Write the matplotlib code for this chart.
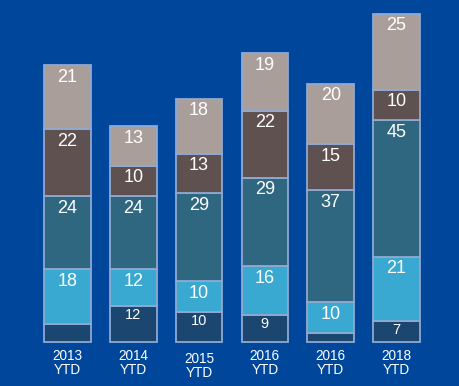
import matplotlib
matplotlib.use("Agg")
import matplotlib.pyplot as plt

categories = ["2013\nYTD", "2014\nYTD", "2015\nYTD", "2016\nYTD", "2016\nYTD", "2018\nYTD"]
navy = [6, 12, 10, 9, 3, 7]
light_blue = [18, 12, 10, 16, 10, 21]
teal = [24, 24, 29, 29, 37, 45]
brown = [22, 10, 13, 22, 15, 10]
mauve = [21, 13, 18, 19, 20, 25]
navy_labels = [None, "12", "10", "9", None, "7"]

series = [navy, light_blue, teal, brown, mauve]
colors = ["#1b4670", "#3aa9d2", "#2f6781", "#5f514f", "#aa9e9b"]

plt.rcParams['font.family'] = ['Liberation Sans', 'DejaVu Sans']
bg = "#00479c"
fig = plt.figure(figsize=(4.6, 3.86), dpi=100, facecolor=bg)
ax = fig.add_axes([0, 0, 1, 1])
ax.set_facecolor(bg)
x = list(range(len(categories)))
bottoms = [0] * len(categories)
for si, (vals, col) in enumerate(zip(series, colors)):
    ax.bar(x, vals, bottom=bottoms, width=0.71, color=col,
           edgecolor="#8fa9d3", linewidth=1.3)
    for i, v in enumerate(vals):
        top = bottoms[i] + v
        if si == 0:
            lab = navy_labels[i]
            fs = 10.5
            off = -9
        else:
            lab = str(v)
            fs = 13
            off = -12
        if lab:
            ax.annotate(lab, (i, top), xytext=(0, off * 72 / 100),
                        textcoords="offset points", ha="center", va="center",
                        color="white", fontsize=fs)
    bottoms = [b + v for b, v in zip(bottoms, vals)]

for i, c in enumerate(categories):
    dy = -1 if i == 2 else 0
    ax.text(i, -6.9 + dy, c, ha="center", va="center", color="white",
            fontsize=9.8, linespacing=1.0)

ax.set_xlim(-1.026, 5.965)
ax.set_ylim(-14.47, 112.5)
ax.axis("off")
fig.savefig("out.png", dpi=100, facecolor=bg)
